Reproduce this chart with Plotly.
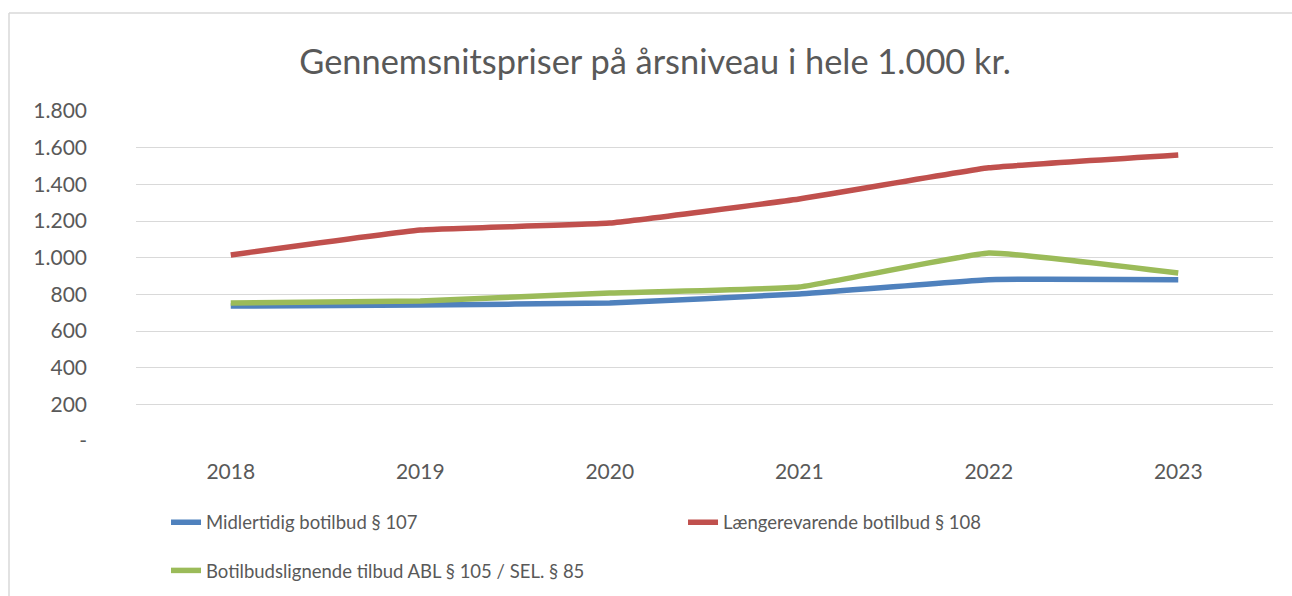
import plotly.graph_objects as go

years = ["2018", "2019", "2020", "2021", "2022", "2023"]
midlertidig = [736, 742, 753, 802, 880, 880]
laengerevarende = [1015, 1151, 1189, 1320, 1490, 1560]
botilbudslignende = [753, 764, 807, 840, 1025, 916]
series_names = ["Midlertidig botilbud § 107", "Længerevarende botilbud § 108",
                "Botilbudslignende tilbud ABL § 105 / SEL. § 85"]
ytick_vals = [0, 200, 400, 600, 800, 1000, 1200, 1400, 1600, 1800]
ytick_text = ["-", "200", "400", "600", "800", "1.000", "1.200", "1.400", "1.600", "1.800"]

colors = ["#4f81bd", "#c0504d", "#9bbb59"]
legends = ["legend", "legend", "legend2"]
FONT = "Lato, 'Liberation Sans', sans-serif"

W, H = 1292, 596
L, R, T, B = 136, 19, 111, 155
PW, PH = W - L - R, H - T - B

fig = go.Figure()
for name, vals, c, lg in zip(series_names, [midlertidig, laengerevarende, botilbudslignende], colors, legends):
    fig.add_trace(go.Scatter(x=years, y=vals, name=name, mode="lines", legend=lg,
                             line=dict(color=c, width=5.5, shape="spline", smoothing=0.3)))

legend_common = dict(orientation="h", xanchor="left", yanchor="top",
                     entrywidth=472, entrywidthmode="pixels",
                     font=dict(size=18.5, color="#595959", family=FONT),
                     bgcolor="rgba(0,0,0,0)")

border = dict(color="#d9d9d9", width=1.5)

fig.update_layout(
    width=W, height=H,
    margin=dict(l=L, r=R, t=T, b=B, autoexpand=False),
    paper_bgcolor="white", plot_bgcolor="white",
    font=dict(family=FONT, color="#595959", size=18),
    title=dict(text="Gennemsnitspriser på årsniveau i hele 1.000 kr.", x=0.507, xanchor="center",
               y=1 - 62 / H, yanchor="middle", yref="container",
               font=dict(size=34.4, color="#595959", family=FONT)),
    showlegend=True,
    legend=dict(x=0.0264, y=-0.19, **legend_common),
    legend2=dict(x=0.0264, y=-0.336, **legend_common),
    xaxis=dict(type="category", range=[-0.5, 5.5], showgrid=False, showline=False,
               ticks="", ticklabelstandoff=16, tickfont=dict(size=21, color="#595959")),
    yaxis=dict(range=[0, 1800], tickvals=ytick_vals, ticktext=ytick_text,
               showgrid=True, gridcolor="#d9d9d9", gridwidth=1.3, zeroline=False,
               showline=False, ticks="", ticklabelstandoff=48,
               tickfont=dict(size=21, color="#595959")),
    shapes=[
        dict(type="line", xref="paper", yref="paper",
             x0=(9 - L) / PW, x1=(W + 5 - L) / PW,
             y0=(H - B - 13) / PH, y1=(H - B - 13) / PH, line=border, layer="below"),
        dict(type="line", xref="paper", yref="paper",
             x0=(9 - L) / PW, x1=(9 - L) / PW,
             y0=(H - B - 13) / PH, y1=(H - B - H - 5) / PH, line=border, layer="below"),
    ],
)

fig.write_html("out.html", config={"displayModeBar": False},
               post_script="document.body.style.margin='0';document.body.style.overflow='hidden';")
